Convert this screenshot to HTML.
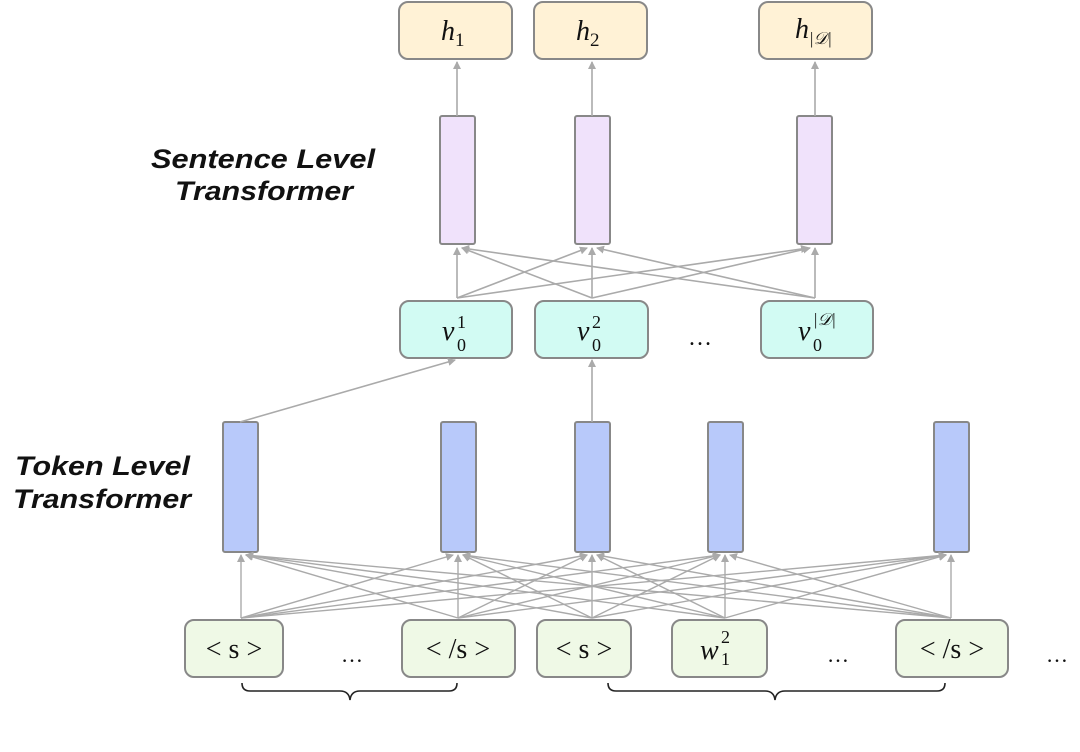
<!DOCTYPE html>
<html><head><style>
body{margin:0;background:#fff;width:1080px;height:752px;overflow:hidden}
svg{display:block}
.lbl{font-family:"Liberation Sans",sans-serif;font-weight:bold;font-style:italic;font-size:27px;fill:#111}
.m{font-family:"Liberation Serif",serif;font-style:italic;fill:#111}
.t{font-family:"Liberation Serif",serif;fill:#111}
</style></head><body>
<svg width="1080" height="752" viewBox="0 0 1080 752">
<defs><marker id="a" markerWidth="8" markerHeight="8" refX="7" refY="4" orient="auto" markerUnits="userSpaceOnUse"><path d="M0,0 L8,4 L0,8 z" fill="#aaa"/></marker></defs>
<g stroke="#888" stroke-width="2">
<rect x="399" y="2" width="113" height="57" rx="9" fill="#fff2d6"/>
<rect x="534" y="2" width="113" height="57" rx="9" fill="#fff2d6"/>
<rect x="759" y="2" width="113" height="57" rx="9" fill="#fff2d6"/>
<rect x="440" y="116" width="35" height="128" rx="2" fill="#f0e2fb"/>
<rect x="575" y="116" width="35" height="128" rx="2" fill="#f0e2fb"/>
<rect x="797" y="116" width="35" height="128" rx="2" fill="#f0e2fb"/>
<rect x="400" y="301" width="112" height="57" rx="9" fill="#d2fbf3"/>
<rect x="535" y="301" width="113" height="57" rx="9" fill="#d2fbf3"/>
<rect x="761" y="301" width="112" height="57" rx="9" fill="#d2fbf3"/>
<rect x="223" y="422" width="35" height="130" rx="2" fill="#b8c9fa"/>
<rect x="441" y="422" width="35" height="130" rx="2" fill="#b8c9fa"/>
<rect x="575" y="422" width="35" height="130" rx="2" fill="#b8c9fa"/>
<rect x="708" y="422" width="35" height="130" rx="2" fill="#b8c9fa"/>
<rect x="934" y="422" width="35" height="130" rx="2" fill="#b8c9fa"/>
<rect x="185" y="620" width="98" height="57" rx="9" fill="#eff9e6"/>
<rect x="402" y="620" width="113" height="57" rx="9" fill="#eff9e6"/>
<rect x="537" y="620" width="94" height="57" rx="9" fill="#eff9e6"/>
<rect x="672" y="620" width="95" height="57" rx="9" fill="#eff9e6"/>
<rect x="896" y="620" width="112" height="57" rx="9" fill="#eff9e6"/>
</g>
<g stroke="#aaa" stroke-width="1.6" marker-end="url(#a)" fill="none">
<line x1="457" y1="116" x2="457" y2="62"/>
<line x1="592" y1="116" x2="592" y2="62"/>
<line x1="815" y1="116" x2="815" y2="62"/>
<line x1="457" y1="298" x2="457" y2="248"/>
<line x1="457" y1="298" x2="587" y2="248"/>
<line x1="457" y1="298" x2="808" y2="248"/>
<line x1="592" y1="298" x2="462" y2="248"/>
<line x1="592" y1="298" x2="592" y2="248"/>
<line x1="592" y1="298" x2="810" y2="248"/>
<line x1="815" y1="298" x2="462" y2="248"/>
<line x1="815" y1="298" x2="597" y2="248"/>
<line x1="815" y1="298" x2="815" y2="248"/>
<line x1="240" y1="422" x2="455" y2="360"/>
<line x1="592" y1="422" x2="592" y2="360"/>
</g>
<g stroke="#aaa" stroke-width="1.4" marker-end="url(#a)" fill="none">
<line x1="241" y1="618" x2="241" y2="555"/><line x1="241" y1="618" x2="453" y2="555"/><line x1="241" y1="618" x2="587" y2="555"/><line x1="241" y1="618" x2="720" y2="555"/><line x1="241" y1="618" x2="946" y2="555"/>
<line x1="458" y1="618" x2="246" y2="555"/><line x1="458" y1="618" x2="458" y2="555"/><line x1="458" y1="618" x2="587" y2="555"/><line x1="458" y1="618" x2="720" y2="555"/><line x1="458" y1="618" x2="946" y2="555"/>
<line x1="592" y1="618" x2="246" y2="555"/><line x1="592" y1="618" x2="463" y2="555"/><line x1="592" y1="618" x2="592" y2="555"/><line x1="592" y1="618" x2="720" y2="555"/><line x1="592" y1="618" x2="946" y2="555"/>
<line x1="725" y1="618" x2="246" y2="555"/><line x1="725" y1="618" x2="463" y2="555"/><line x1="725" y1="618" x2="597" y2="555"/><line x1="725" y1="618" x2="725" y2="555"/><line x1="725" y1="618" x2="946" y2="555"/>
<line x1="951" y1="618" x2="246" y2="555"/><line x1="951" y1="618" x2="463" y2="555"/><line x1="951" y1="618" x2="597" y2="555"/><line x1="951" y1="618" x2="730" y2="555"/><line x1="951" y1="618" x2="951" y2="555"/>
</g>
<g stroke="#222" stroke-width="1.6" fill="none">
<path d="M242,683 q0,8 8,8 H340 q9,0 10,9 q1,-9 10,-9 H449 q8,0 8,-8"/>
<path d="M608,683 q0,8 8,8 H765 q9,0 10,9 q1,-9 10,-9 H937 q8,0 8,-8"/>
</g>
<text class="lbl" x="151" y="168" textLength="224" lengthAdjust="spacingAndGlyphs">Sentence Level</text>
<text class="lbl" x="175" y="200" textLength="178" lengthAdjust="spacingAndGlyphs">Transformer</text>
<text class="lbl" x="15" y="475" textLength="175" lengthAdjust="spacingAndGlyphs">Token Level</text>
<text class="lbl" x="13" y="508" textLength="178" lengthAdjust="spacingAndGlyphs">Transformer</text>
<text class="m" x="441" y="40" font-size="28">h<tspan font-size="19" font-style="normal" dy="6">1</tspan></text>
<text class="m" x="576" y="40" font-size="28">h<tspan font-size="19" font-style="normal" dy="6">2</tspan></text>
<text class="m" x="795" y="38" font-size="28">h<tspan font-size="17" dy="6">|𝒟|</tspan></text>
<text class="m" x="442" y="340" font-size="28">v</text><text class="t" x="457" y="328" font-size="18">1</text><text class="t" x="457" y="351" font-size="18">0</text>
<text class="m" x="577" y="340" font-size="28">v</text><text class="t" x="592" y="328" font-size="18">2</text><text class="t" x="592" y="351" font-size="18">0</text>
<text class="m" x="798" y="340" font-size="28">v</text><text class="t" x="813" y="325" font-size="17" font-style="italic">|𝒟|</text><text class="t" x="813" y="351" font-size="18">0</text>
<text class="t" x="700" y="345" font-size="24" text-anchor="middle">…</text>
<g class="t" font-size="28" text-anchor="middle">
<text x="234" y="658">&lt; s &gt;</text>
<text x="458" y="658">&lt; /s &gt;</text>
<text x="584" y="658">&lt; s &gt;</text>
<text x="952" y="658">&lt; /s &gt;</text>
</g>
<text class="m" x="700" y="659" font-size="28">w</text><text class="t" x="721" y="643" font-size="18">2</text><text class="t" x="721" y="665" font-size="18">1</text>
<g class="t" font-size="22" text-anchor="middle"><text x="352" y="662">…</text><text x="838" y="662">…</text><text x="1057" y="662">…</text></g>
</svg>
</body></html>
